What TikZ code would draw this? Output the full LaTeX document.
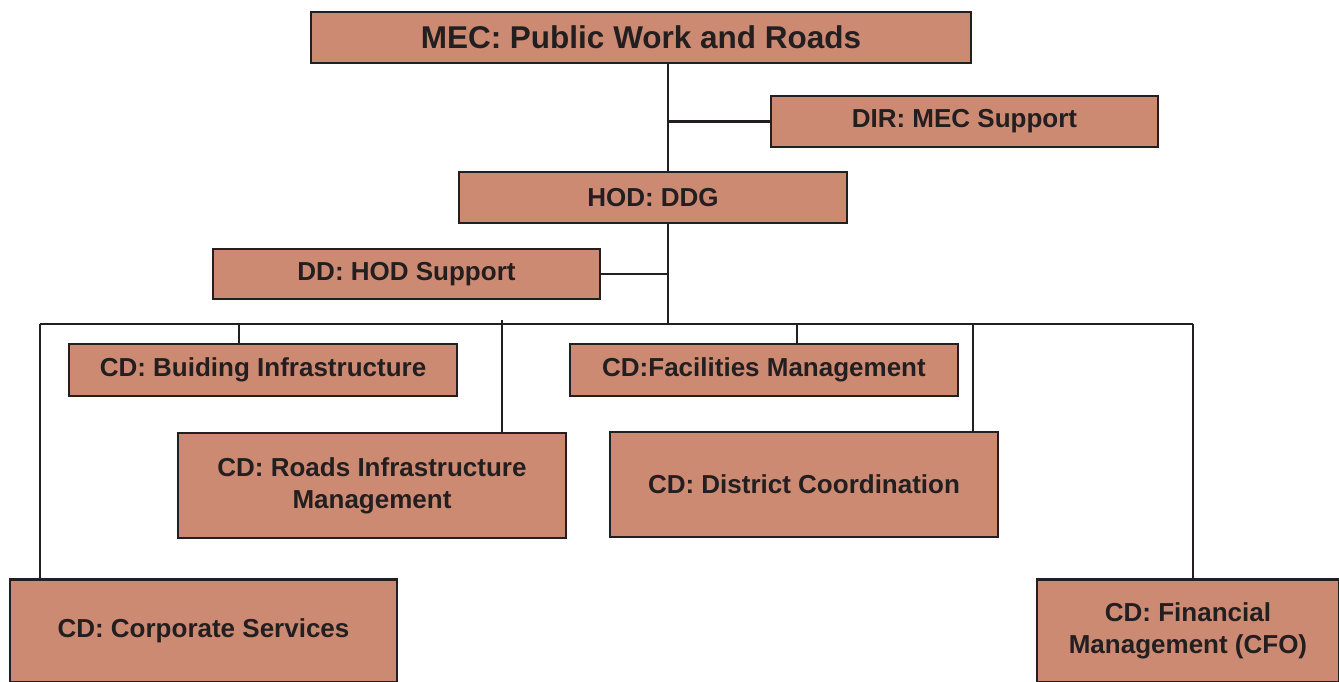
\documentclass[tikz,border=0pt]{standalone}
\usepackage{fontspec}
\setmainfont{Liberation Sans}
\usepackage{xcolor}
\usepackage{tikz}
\usetikzlibrary{positioning}
\definecolor{boxfill}{HTML}{CC8A73}
\definecolor{inkc}{HTML}{231F20}
\tikzset{
  unit/.style={draw=inkc,line width=2.2pt,fill=boxfill,text=inkc,align=center,
    font=\fontsize{26}{32}\selectfont\bfseries,inner sep=0pt},
  wire/.style={draw=inkc,line width=2.2pt}
}

\begin{document}
\begin{tikzpicture}[x=1pt,y=-1pt]
\useasboundingbox (0,0) rectangle (1339,682);
\node[unit,minimum width=660pt,minimum height=51pt,font=\fontsize{31.5}{36}\selectfont\bfseries] (mec) at (641,37.5) {MEC: Public Work and Roads};
\node[unit,minimum width=387pt,minimum height=51pt] (dir) at (964.5,121.5) {DIR: MEC Support};
\node[unit,minimum width=388pt,minimum height=51pt] (hod) at (653,197.5) {HOD: DDG};
\node[unit,minimum width=387pt,minimum height=50pt] (hodsup) at (406.5,274) {DD: HOD Support};
\node[unit,minimum width=388pt,minimum height=52pt] (bldg) at (263,370) {CD: Buiding Infrastructure};
\node[unit,minimum width=388pt,minimum height=52pt] (facil) at (764,370) {CD:Facilities Management};
\node[unit,minimum width=388pt,minimum height=105pt] (roads) at (372,485.5) {CD: Roads Infrastructure\\Management};
\node[unit,minimum width=388pt,minimum height=105pt] (distr) at (804,484.5) {CD: District Coordination};
\node[unit,minimum width=387pt,minimum height=103pt] (corp) at (203.5,631) {CD: Corporate Services};
\node[unit,minimum width=302pt,minimum height=103pt] (cfo) at (1188,631) {CD: Financial\\Management (CFO)};
\coordinate (bus) at (668,324);
\coordinate (busL) at (40,324);
\coordinate (busR) at (1193,324);
\coordinate (dbldg) at (239,324);
\coordinate (droads) at (502,320);
\coordinate (dfacil) at (797,324);
\coordinate (ddistr) at (973,324);
\draw[wire] (mec.south -| bus) -- (hod.north -| bus);
\draw[wire] (dir.west) -- (dir.west -| bus);
\draw[wire] (hod.south -| bus) -- (bus);
\draw[wire] (hodsup.east) -- (hodsup.east -| bus);
\draw[wire] (busL) -- (busR);
\draw[wire] (busL) -- (busL |- corp.north);
\draw[wire] (busR) -- (busR |- cfo.north);
\draw[wire] (dbldg) -- (dbldg |- bldg.north);
\draw[wire] (droads) -- (droads |- roads.north);
\draw[wire] (dfacil) -- (dfacil |- facil.north);
\draw[wire] (ddistr) -- (ddistr |- distr.north);
\end{tikzpicture}
\end{document}
